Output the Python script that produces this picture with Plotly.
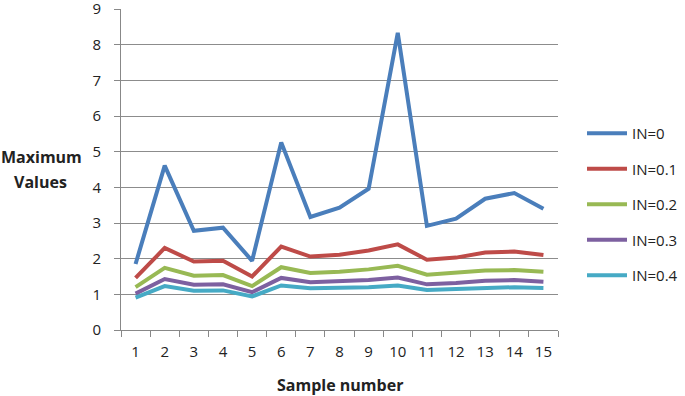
import plotly.graph_objects as go

samples = [str(i) for i in range(1, 16)]
in_0 = [1.85, 4.61, 2.78, 2.87, 1.94, 5.26, 3.17, 3.43, 3.96, 8.33, 2.92, 3.12, 3.68, 3.84, 3.40]
in_01 = [1.46, 2.30, 1.92, 1.94, 1.50, 2.34, 2.06, 2.11, 2.23, 2.40, 1.97, 2.03, 2.17, 2.20, 2.10]
in_02 = [1.20, 1.74, 1.52, 1.54, 1.23, 1.76, 1.60, 1.63, 1.70, 1.80, 1.55, 1.60, 1.67, 1.68, 1.63]
in_03 = [1.02, 1.43, 1.27, 1.28, 1.06, 1.46, 1.34, 1.36, 1.40, 1.47, 1.28, 1.32, 1.38, 1.40, 1.35]
in_04 = [0.91, 1.23, 1.10, 1.11, 0.94, 1.25, 1.17, 1.18, 1.20, 1.25, 1.12, 1.15, 1.18, 1.20, 1.18]
y_ticks = list(range(0, 10))

series = [
    ("IN=0", in_0, "#4A7EBB"),
    ("IN=0.1", in_01, "#BE4B48"),
    ("IN=0.2", in_02, "#98B954"),
    ("IN=0.3", in_03, "#7D60A0"),
    ("IN=0.4", in_04, "#46AAC5"),
]

fig = go.Figure()
for i, (name, vals, col) in enumerate(series):
    fig.add_trace(go.Scatter(x=samples, y=vals, name=name, mode="lines",
                             line=dict(color=col, width=4), legendgroup=f"g{i}"))

W, H = 685, 396
L, R, T, B = 121, 127, 9, 66
pw = W - L - R
ph = H - T - B

def px_x(x):
    return (x - L) / pw

def px_y(y):
    return (H - B - y) / ph

font_fam = "Open Sans, Liberation Sans, Arial, sans-serif"
fig.update_layout(
    width=W, height=H,
    margin=dict(l=L, r=R, t=T, b=B, autoexpand=False),
    paper_bgcolor="white", plot_bgcolor="white",
    font=dict(family=font_fam, size=15, color="#222"),
    showlegend=True,
    legend=dict(x=px_x(582), xanchor="left", y=px_y(117), yanchor="top",
                tracegroupgap=13, font=dict(size=15), itemwidth=40,
                bgcolor="rgba(0,0,0,0)"),
    xaxis=dict(type="category", range=[-0.5, 14.5], showgrid=False, showline=True,
               linecolor="#888", linewidth=1, ticks="outside", tickson="boundaries",
               ticklen=6, tickcolor="#888", tickfont=dict(size=15),
               ticklabelstandoff=8),
    yaxis=dict(range=[0, 9], tickvals=y_ticks, showgrid=True, gridcolor="#8c8c8c",
               gridwidth=1, showline=True, linecolor="#888", linewidth=1, ticks="outside",
               ticklen=6, tickcolor="#888", zeroline=False, tickfont=dict(size=15),
               ticklabeloverflow="allow", ticklabelstandoff=10),
    annotations=[
        dict(text="<b>Maximum</b>", x=px_x(41.5), y=px_y(157), xref="paper",
             yref="paper", xanchor="center", yanchor="middle", showarrow=False,
             font=dict(size=16)),
        dict(text="<b>Values</b>", x=px_x(40.5), y=px_y(182), xref="paper",
             yref="paper", xanchor="center", yanchor="middle", showarrow=False,
             font=dict(size=16)),
        dict(text="<b>Sample number</b>", x=0.5, y=px_y(385), xref="paper", yref="paper",
             xanchor="center", yanchor="middle", showarrow=False, font=dict(size=16)),
    ],
)

fig.write_html("out.html", config={"displayModeBar": False},
               post_script="document.body.style.margin='0';")
